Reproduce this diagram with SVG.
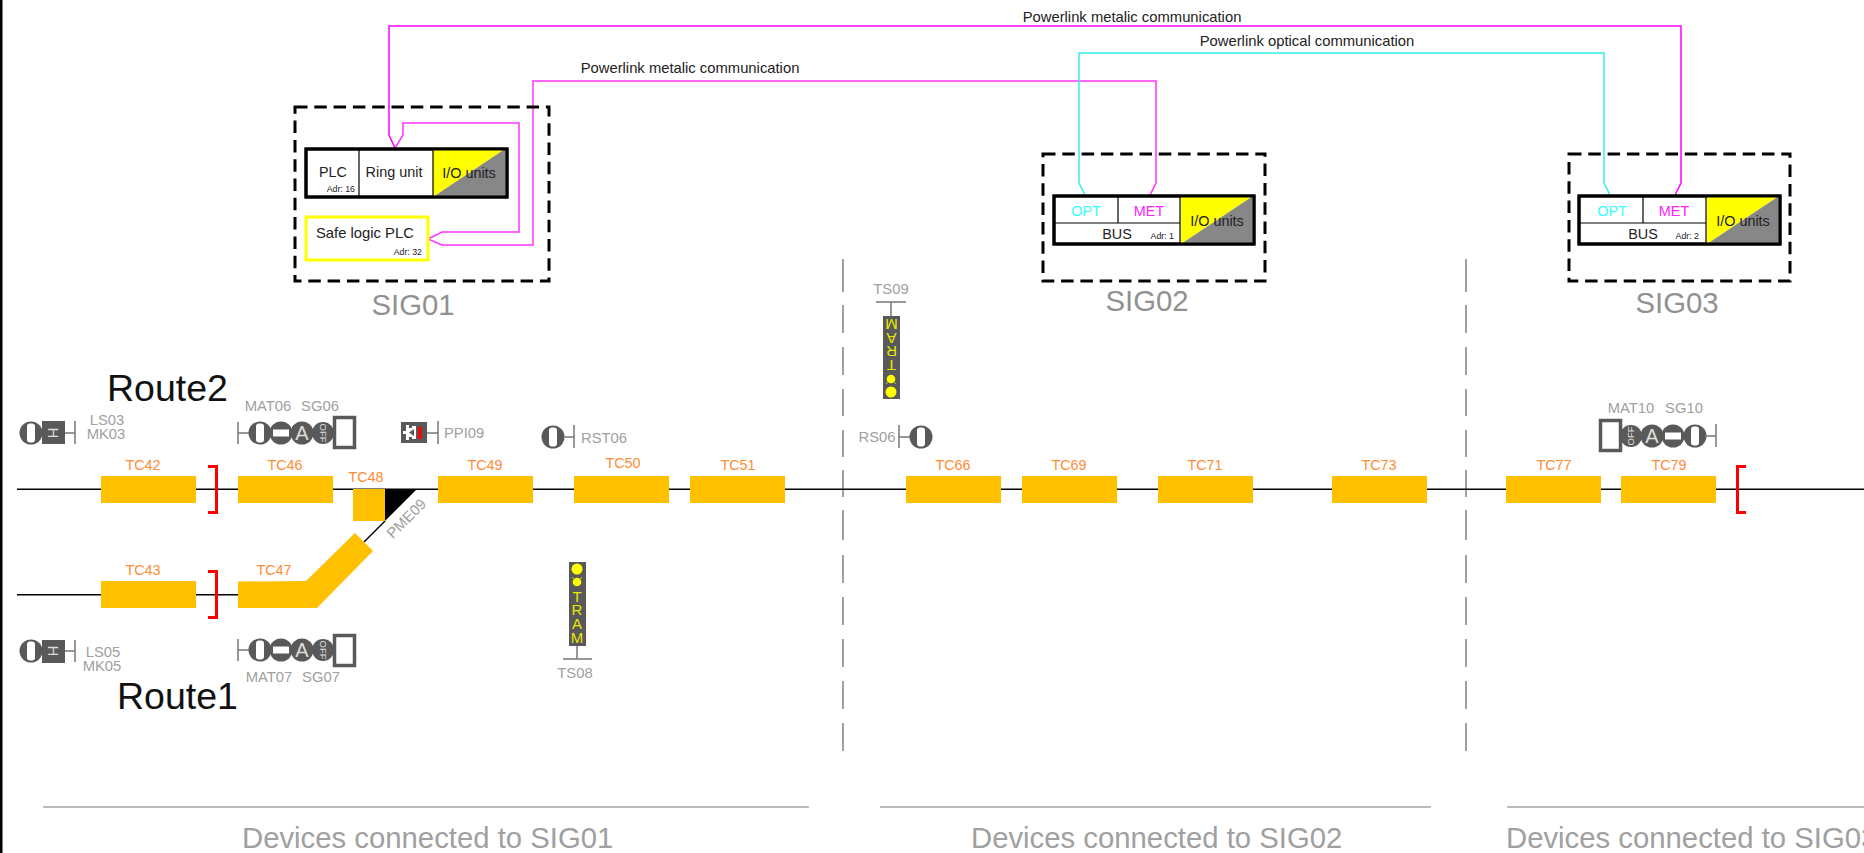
<svg xmlns="http://www.w3.org/2000/svg" width="1864" height="853" viewBox="0 0 1864 853">
<style>
text{font-family:"Liberation Sans",Arial,sans-serif}
.dash{fill:none;stroke:#000;stroke-width:3;stroke-dasharray:12.500 6.800}
.box{fill:#fff;stroke:#000;stroke-width:3}
.div{fill:none;stroke:#000;stroke-width:1.200}
.t{font-size:14.4px;fill:#222;text-anchor:middle}
.adr{font-size:8.8px;fill:#222;text-anchor:end}
.sig{font-size:29.3px;fill:#919191;text-anchor:middle}
.opt{font-size:14.4px;fill:#33ffff;text-anchor:middle}
.met{font-size:14.4px;fill:#ff22ff;text-anchor:middle}
.lab{font-size:14.8px;fill:#a0a0a0;text-anchor:middle}
.labl{font-size:14.8px;fill:#a0a0a0}
.tc{font-size:14.4px;fill:#ff8c32;text-anchor:middle}
.seg{fill:#ffc000}
.trk{fill:none;stroke:#000;stroke-width:1.500}
.red{fill:none;stroke:#f00;stroke-width:3}
.g{fill:#595959}
.gl{fill:none;stroke:#777;stroke-width:1.500}
.w{fill:#fff}
.sq{fill:#fff;stroke:#595959;stroke-width:3.500}
.ic{font-size:20px;fill:#ddd;text-anchor:middle}
.off{font-size:9.500px;fill:#ddd;text-anchor:middle}
.y{fill:#ff0}
.ty{font-size:15px;fill:#e8e800;text-anchor:middle}
.sep{fill:none;stroke:#808080;stroke-width:1.500}
.rule{fill:none;stroke:#a6a6a6;stroke-width:1.500}
.big{font-size:29.300px;fill:#a0a0a0}
.route{font-size:37.500px;fill:#111}
.ml{fill:none;stroke:#ff00ff;stroke-width:1.500}
.cl{fill:none;stroke:#33eeee;stroke-width:1.500}
.pl{font-size:14.800px;fill:#222;text-anchor:middle}
</style>
<defs>
<g id="lampV"><circle r="11.500" class="g"/><rect x="-4" y="-9.500" width="8" height="19" rx="3" class="w"/></g>
<g id="lampH"><circle r="11.500" class="g"/><rect x="-8" y="-3.500" width="16" height="7" class="w"/></g>
<g id="lampA"><circle r="11.500" class="g"/><text y="7" class="ic">A</text></g>
<g id="lampO"><circle r="11" class="g"/></g>
<g id="io"><polygon points="0,0 72,0 0,48" class="y"/><polygon points="72,0 72,48 0,48" fill="#878787"/></g>
</defs>
<rect width="1864" height="853" fill="#fff"/>
<rect x="0" y="0" width="2.500" height="853" fill="#000"/>

<g id="separators">
<path class="sep" d="M843 259V292M843 305V333M843 347V375M843 389V416M843 430V457M843 470V497M843 510V540M843 555V583M843 597V625M843 639V667M843 681V709M843 723V751"/>
<path class="sep" d="M1466 259V292M1466 305V333M1466 347V375M1466 389V416M1466 430V457M1466 470V497M1466 510V540M1466 555V583M1466 597V625M1466 639V667M1466 681V709M1466 723V751"/>
<path class="rule" d="M43 807H809M880 807H1431M1507 807H1864"/>
</g>

<g id="connectors">
<path class="ml" d="M395 148L389 135V26H1681V183L1675 195"/>
<path class="ml" style="stroke:#ff33ff" d="M395 148L403 135V123H519V232H442L428 239L442 245H533V81H1156V183L1150 195"/>
<path class="cl" d="M1085 195L1079 183V53H1604V183L1610 195"/>
<text class="pl" x="1132" y="22">Powerlink metalic communication</text>
<text class="pl" x="690" y="73">Powerlink metalic communication</text>
<text class="pl" x="1307" y="46">Powerlink optical communication</text>
</g>

<g id="tracks">
<path class="trk" d="M17 489.300H1864"/>
<path class="trk" d="M17 594.800H238"/>
<path class="trk" d="M364 542L385 521"/>
</g>

<g id="SIG01">
<rect class="dash" x="295" y="107" width="254" height="174"/>
<rect class="box" x="306" y="149" width="201" height="48"/>
<use href="#io" x="433" y="149"/>
<path class="box" style="fill:none" d="M306 149H507V197H306Z"/>
<path class="div" d="M359 149V197M433 149V197"/>
<text class="t" x="333" y="177">PLC</text>
<text class="adr" x="355" y="192">Adr: 16</text>
<text class="t" x="394" y="177">Ring unit</text>
<text class="t" x="469" y="178">I/O units</text>
<rect x="306" y="217" width="122" height="43" fill="#fff" stroke="#ff0" stroke-width="3"/>
<text class="t" style="font-size:14.800px;text-anchor:start" x="316" y="238">Safe logic PLC</text>
<text class="adr" x="422" y="255">Adr: 32</text>
<text class="sig" x="413" y="315">SIG01</text>
</g>

<g id="SIG02">
<rect class="dash" x="1043" y="154" width="222" height="127"/>
<rect class="box" x="1054" y="196" width="200" height="48"/>
<use href="#io" x="1181" y="196"/>
<path class="box" style="fill:none" d="M1054 196H1254V244H1054Z"/>
<path class="div" d="M1118 196V223M1180 196V244M1054 223H1180"/>
<text class="opt" x="1086" y="216">OPT</text>
<text class="met" x="1149" y="216">MET</text>
<text class="t" x="1117" y="239">BUS</text>
<text class="adr" x="1174" y="239">Adr: 1</text>
<text class="t" x="1217" y="226">I/O units</text>
<text class="sig" x="1147" y="311">SIG02</text>
</g>

<g id="SIG03">
<rect class="dash" x="1569" y="154" width="221" height="127"/>
<rect class="box" x="1579" y="196" width="201" height="48"/>
<use href="#io" x="1707" y="196"/>
<path class="box" style="fill:none" d="M1579 196H1780V244H1579Z"/>
<path class="div" d="M1643 196V223M1706 196V244M1579 223H1706"/>
<text class="opt" x="1612" y="216">OPT</text>
<text class="met" x="1674" y="216">MET</text>
<text class="t" x="1643" y="239">BUS</text>
<text class="adr" x="1699" y="239">Adr: 2</text>
<text class="t" x="1743" y="226">I/O units</text>
<text class="sig" x="1677" y="313">SIG03</text>
</g>

<text class="route" x="107" y="401">Route2</text>
<text class="route" x="117" y="709">Route1</text>

<g id="TC42"><rect class="seg" x="101" y="476" width="95" height="27"/><text class="tc" x="143" y="470">TC42</text></g>
<g id="TC46"><rect class="seg" x="238" y="476" width="95" height="27"/><text class="tc" x="285" y="470">TC46</text></g>
<g id="TC48"><rect class="seg" x="353" y="489" width="32" height="32"/><polygon points="385,489 417,489 385,521" fill="#000"/><text class="tc" x="366" y="482">TC48</text></g>
<g id="TC49"><rect class="seg" x="438" y="476" width="95" height="27"/><text class="tc" x="485" y="470">TC49</text></g>
<g id="TC50"><rect class="seg" x="574" y="476" width="95" height="27"/><text class="tc" x="623" y="468">TC50</text></g>
<g id="TC51"><rect class="seg" x="690" y="476" width="95" height="27"/><text class="tc" x="738" y="470">TC51</text></g>
<g id="TC66"><rect class="seg" x="906" y="476" width="95" height="27"/><text class="tc" x="953" y="470">TC66</text></g>
<g id="TC69"><rect class="seg" x="1022" y="476" width="95" height="27"/><text class="tc" x="1069" y="470">TC69</text></g>
<g id="TC71"><rect class="seg" x="1158" y="476" width="95" height="27"/><text class="tc" x="1205" y="470">TC71</text></g>
<g id="TC73"><rect class="seg" x="1332" y="476" width="95" height="27"/><text class="tc" x="1379" y="470">TC73</text></g>
<g id="TC77"><rect class="seg" x="1506" y="476" width="95" height="27"/><text class="tc" x="1554" y="470">TC77</text></g>
<g id="TC79"><rect class="seg" x="1621" y="476" width="95" height="27"/><text class="tc" x="1669" y="470">TC79</text></g>
<g id="TC43"><rect class="seg" x="101" y="581" width="95" height="27"/><text class="tc" x="143" y="575">TC43</text></g>
<g id="TC47"><polygon class="seg" points="238,581.500 306,581 355,533 373,551 317,608 238,608"/><text class="tc" x="274" y="575">TC47</text></g>

<g id="stops">
<path class="red" d="M208 466.500H216.500V512.500H208"/>
<path class="red" d="M208 571.500H216.500V617.500H208"/>
<path class="red" d="M1746 466.500H1737.500V512.500H1746"/>
</g>

<g id="LS03">
<use href="#lampV" x="31" y="433"/>
<rect class="g" x="42" y="421" width="23" height="23"/>
<text class="ic" transform="translate(53 433) rotate(90)" style="font-size:15px" dy="5.400">H</text>
<path class="gl" d="M65 433H75M75 421V444"/>
<text class="lab" x="107" y="425">LS03</text>
<text class="lab" x="106" y="439">MK03</text>
</g>
<g id="LS05">
<use href="#lampV" x="31" y="651"/>
<rect class="g" x="42" y="640" width="23" height="23"/>
<text class="ic" transform="translate(53 651) rotate(90)" style="font-size:15px" dy="5.400">H</text>
<path class="gl" d="M65 651H75M75 640V662"/>
<text class="lab" x="103" y="657">LS05</text>
<text class="lab" x="102" y="671">MK05</text>
</g>

<g id="MAT06">
<path class="gl" d="M238 422V444M238 433H250"/>
<use href="#lampV" x="260" y="433"/>
<use href="#lampH" x="281" y="433"/>
<use href="#lampA" x="302" y="433"/>
<use href="#lampO" x="323" y="433"/>
<text class="off" transform="translate(323 433) rotate(90)" dy="3.400">OFF</text>
<rect class="sq" x="334.500" y="417.500" width="20" height="30"/>
<text class="lab" x="268" y="411">MAT06</text>
<text class="lab" x="320" y="411">SG06</text>
</g>
<g id="MAT07">
<path class="gl" d="M238 639V661M238 650H250"/>
<use href="#lampV" x="260" y="650"/>
<use href="#lampH" x="281" y="650"/>
<use href="#lampA" x="302" y="650"/>
<use href="#lampO" x="323" y="650"/>
<text class="off" transform="translate(323 650) rotate(90)" dy="3.400">OFF</text>
<rect class="sq" x="334.500" y="635.500" width="20" height="30"/>
<text class="lab" x="269" y="682">MAT07</text>
<text class="lab" x="321" y="682">SG07</text>
</g>
<g id="MAT10">
<rect class="sq" x="1600.500" y="420.500" width="20" height="30"/>
<use href="#lampO" x="1631" y="436"/>
<text class="off" transform="translate(1631 436) rotate(-90)" dy="3.400">OFF</text>
<use href="#lampA" x="1652" y="436"/>
<use href="#lampH" x="1673" y="436"/>
<use href="#lampV" x="1695" y="436"/>
<path class="gl" d="M1705 436H1716M1716 424V447"/>
<text class="lab" x="1631" y="413">MAT10</text>
<text class="lab" x="1684" y="413">SG10</text>
</g>

<g id="PPI09">
<rect class="g" x="401" y="422" width="26" height="21"/>
<polygon class="w" points="403,431 406,431 406,425 409,425 409,428 412,428 412,426 416,426 416,439 412,439 412,437 409,437 409,440 406,440 406,434 403,434"/>
<polygon class="g" points="409,432.500 414,429 414,436"/>
<rect x="418" y="427" width="3.500" height="12" fill="#f00"/>
<path class="gl" d="M427 433H438M438 421V444"/>
<text class="labl" x="444" y="438">PPI09</text>
</g>
<g id="RST06">
<use href="#lampV" x="553" y="437"/>
<path class="gl" d="M563 437H574M574 425V448"/>
<text class="labl" x="581" y="443">RST06</text>
</g>
<g id="RS06">
<text class="lab" x="877" y="442">RS06</text>
<path class="gl" d="M899 425V448M899 437H911"/>
<use href="#lampV" x="921" y="437"/>
</g>
<g id="PME09">
<text class="lab" transform="translate(410 522) rotate(-45)">PME09</text>
</g>

<g id="TS08">
<rect class="g" x="569" y="562" width="17" height="84"/>
<circle class="y" cx="577" cy="569" r="5.500"/>
<circle class="y" cx="577" cy="582" r="4.300"/>
<path d="M572 577l2 2M582 577l-2 2" fill="none" stroke="#e8e800" stroke-width=".8"/>
<text class="ty" x="577 577 577 577" y="602 615 629 643">TRAM</text>
<path class="gl" d="M577 646V659M563 659H592"/>
<text class="lab" x="575" y="678">TS08</text>
</g>
<g id="TS09">
<text class="lab" x="891" y="294">TS09</text>
<path class="gl" d="M876 302H906M891 302V316"/>
<rect class="g" x="883" y="316" width="17" height="83"/>
<text class="ty" transform="translate(891.500 399) rotate(180)" x="0 0 0 0" y="39 53 66 80">TRAM</text>
<circle class="y" cx="891" cy="379" r="4.300"/>
<path d="M886 384l2 -2M896 384l-2 -2" fill="none" stroke="#e8e800" stroke-width=".8"/>
<circle class="y" cx="891" cy="392" r="5.500"/>
</g>

<g id="footer">
<text class="big" x="242" y="848">Devices connected to SIG01</text>
<text class="big" x="971" y="848">Devices connected to SIG02</text>
<text class="big" x="1506" y="848">Devices connected to SIG03</text>
</g>
</svg>
